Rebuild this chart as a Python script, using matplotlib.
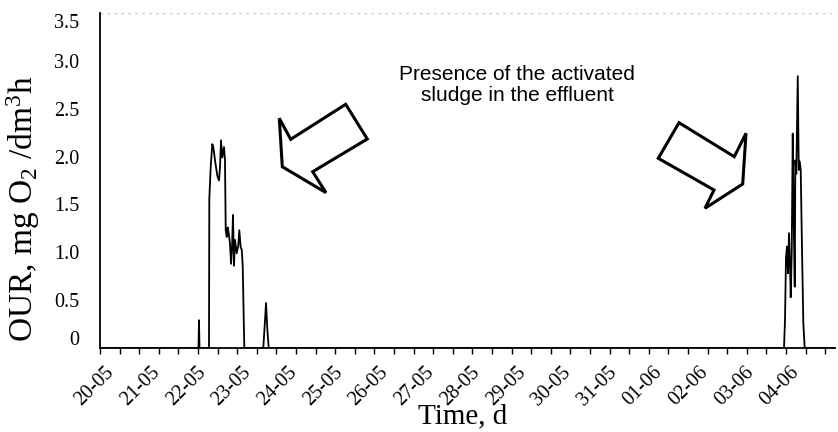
import matplotlib
matplotlib.use("Agg")
import matplotlib.pyplot as plt
from matplotlib.patches import Polygon
import matplotlib.transforms as mtransforms
import numpy as np

# time in days since 20-05 00:00, OUR in mg O2/dm3h
t_days = [-0.394, 1.761, 1.772, 1.783,
          1.991, 1.998, 2.028, 2.063, 2.085, 2.123, 2.173, 2.210, 2.232, 2.254,
          2.282, 2.319, 2.341, 2.357, 2.379, 2.400, 2.422, 2.451, 2.473, 2.495,
          2.516, 2.538, 2.560, 2.597, 2.632, 2.654, 2.685, 2.707, 2.729, 2.751,
          2.764,
          3.179, 3.217, 3.239, 3.267, 3.298,
          14.573, 14.595, 14.617, 14.639, 14.661, 14.683, 14.705, 14.720,
          14.742, 14.764, 14.786, 14.808, 14.821, 14.843, 14.874, 14.896,
          14.917, 14.939, 14.968, 14.996, 15.026, 15.689]
our = [0, 0, 0.29, 0,
       0, 1.56, 1.89, 2.13, 2.10, 1.96, 1.80, 1.75, 1.89, 2.17,
       1.99, 2.10, 1.96, 1.23, 1.16, 1.26, 1.20, 1.09, 0.88, 1.05,
       1.39, 0.86, 1.13, 0.99, 1.07, 1.23, 1.05, 1.03, 0.86, 0.30,
       0,
       0, 0.29, 0.47, 0.20, 0,
       0, 0.29, 0.95, 1.06, 0.78, 1.20, 0.85, 0.53,
       1.00, 2.24, 1.33, 0.64, 1.96, 1.82, 2.84, 1.86,
       1.95, 1.86, 1.00, 0.26, 0, 0]

day_labels = ["20-05", "21-05", "22-05", "23-05", "24-05", "25-05", "26-05",
              "27-05", "28-05", "29-05", "30-05", "31-05", "01-06", "02-06",
              "03-06", "04-06"]
y_ticks = [0, 0.5, 1.0, 1.5, 2.0, 2.5, 3.0, 3.5]
y_labels = ["0", "0.5", "1.0", "1.5", "2.0", "2.5", "3.0", "3.5"]

plt.rcParams["mathtext.fontset"] = "custom"
plt.rcParams["mathtext.rm"] = "Liberation Serif"
plt.rcParams["mathtext.it"] = "Liberation Serif:italic"
plt.rcParams["mathtext.default"] = "rm"

W, H = 838, 432
fig = plt.figure(figsize=(W / 100, H / 100), dpi=100)
ax = fig.add_axes([100 / W, 1 - 348 / H, 735 / W, 335 / H])

ax.plot(t_days, our, color="black", lw=1.3)

ax.set_xlim(-0.394, 15.689)
ax.set_ylim(0, 3.5)

serif = "Liberation Serif"
ax.set_xticks(np.arange(len(day_labels)))
ax.set_xticklabels(day_labels, rotation=45, ha="right", fontsize=14.5, family=serif)
ax.set_xticks(-0.394 + 0.4289 * np.arange(38), minor=True)
ax.tick_params(axis="x", which="major", length=0, pad=11)
ax.tick_params(axis="x", which="minor", length=4, width=1, direction="out")

ax.set_yticks(y_ticks)
ax.set_yticklabels(y_labels, fontsize=14.5, family=serif)
ax.tick_params(axis="y", length=0, pad=15)
# excel-like nudges for the end labels
lbls = ax.get_yticklabels()
lbls[0].set_transform(lbls[0].get_transform() + mtransforms.ScaledTranslation(0, 10 / 100, fig.dpi_scale_trans))
lbls[-1].set_transform(lbls[-1].get_transform() + mtransforms.ScaledTranslation(0, -8 / 100, fig.dpi_scale_trans))

for s in ["top", "right"]:
    ax.spines[s].set_visible(False)
for s in ["left", "bottom"]:
    ax.spines[s].set_linewidth(1.3)
ax.axhline(3.5, color="0.8", ls=(0, (2, 3)), lw=1)

ax.set_xlabel("Time, d", fontsize=21, family=serif, va="center")
ax.xaxis.set_label_coords(0.494, -0.205)
ax.set_ylabel(r"OUR, mg O$_2$ /dm$^3$h", fontsize=24, family=serif, va="center")
ax.yaxis.set_label_coords(-0.104, 0.415)

fig.text(517 / W, 1 - 85 / H, "Presence of the activated\nsludge in the effluent",
         ha="center", va="center", fontsize=15, family="Liberation Sans",
         linespacing=1.15)

# hollow block arrows (pixel coords of the picture)
def px(pts):
    return [(x / W, 1 - y / H) for x, y in pts]

left_arrow = [(279.3, 118.3), (290.7, 139.3), (345.7, 104.3), (367.3, 139),
              (312.7, 171.7), (326, 192.7), (282.3, 166.7)]
right_arrow = [(679, 122.7), (658.3, 158.3), (714, 190), (705, 208.3),
               (742.7, 184), (746, 133.3), (734.3, 156.7)]
for arr in (left_arrow, right_arrow):
    fig.patches.append(Polygon(px(arr), closed=True, fill=False, edgecolor="black",
                               lw=2.2, joinstyle="miter", transform=fig.transFigure))

fig.savefig("out.png", dpi=100)
